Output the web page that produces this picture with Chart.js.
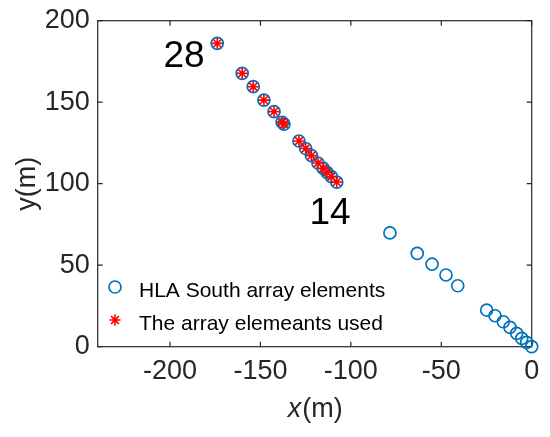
<!DOCTYPE html>
<html>
<head>
<meta charset="utf-8">
<script src="https://cdn.jsdelivr.net/npm/chart.js@4.4.1/dist/chart.umd.min.js"></script>
<style>
  html, body { margin: 0; padding: 0; background: #fff; }
  #wrap { width: 550px; height: 437px; }
</style>
</head>
<body>
<div id="wrap"><canvas id="chart"></canvas></div>
<script>
// HLA South element positions (m), elements 1..28
const elemX = [0, -2.8, -5.5, -8.3, -12, -15.7, -20.3, -24.9, -40.9, -47.4, -55.1, -63.3, -78.4,
               -107.8, -110.8, -113.2, -115.4, -118.2, -121.8, -125, -128.7, -137, -138, -142.5, -148.1, -154, -160.1, -173.9];
const elemY = [0, 2.7, 5.1, 8.2, 11.9, 15.3, 19, 22.5, 37.4, 44, 50.6, 57.3, 69.8,
               101, 104.3, 107, 109.5, 112.7, 117.2, 121.6, 126.2, 136.6, 137.7, 144.2, 151.3, 159.5, 167.7, 186.1];
// elements used: 14..28
const usedFrom = 14, usedTo = 28;
const xTicks = [-200, -150, -100, -50, 0];
const yTicks = [0, 50, 100, 150, 200];
const labels = ['HLA South array elements', 'The array elemeants used'];

const allPts = elemX.map((x, i) => ({x: x, y: elemY[i]}));
const usedPts = allPts.slice(usedFrom - 1, usedTo);

const INK = '#262626';
const FONT = "'Liberation Sans', Arial, sans-serif";

const boxPlugin = {
  id: 'matlabBox',
  beforeDatasetsDraw(chart) {
    const ctx = chart.ctx, a = chart.chartArea;
    const xs = chart.scales.x, ys = chart.scales.y;
    ctx.save();
    ctx.strokeStyle = INK;
    ctx.lineWidth = 1.2;
    ctx.strokeRect(a.left, a.top, a.right - a.left, a.bottom - a.top);
    const tl = 5;
    ctx.beginPath();
    xTicks.forEach(v => {
      const px = xs.getPixelForValue(v);
      ctx.moveTo(px, a.bottom); ctx.lineTo(px, a.bottom - tl);
      ctx.moveTo(px, a.top); ctx.lineTo(px, a.top + tl);
    });
    yTicks.forEach(v => {
      const py = ys.getPixelForValue(v);
      ctx.moveTo(a.left, py); ctx.lineTo(a.left + tl, py);
      ctx.moveTo(a.right, py); ctx.lineTo(a.right - tl, py);
    });
    ctx.stroke();
    ctx.restore();
  },
  afterDraw(chart) {
    const ctx = chart.ctx, a = chart.chartArea;
    ctx.save();
    // axis titles
    ctx.fillStyle = INK;
    ctx.textBaseline = 'alphabetic';
    ctx.font = 'italic 27px ' + FONT;
    const wx = ctx.measureText('x').width;
    ctx.font = '27px ' + FONT;
    const wr = ctx.measureText('(m)').width;
    const cx = (a.left + a.right) / 2;
    let sx = cx - (wx + wr) / 2;
    ctx.textAlign = 'left';
    ctx.font = 'italic 27px ' + FONT;
    ctx.fillText('x', sx, 417);
    ctx.font = '27px ' + FONT;
    ctx.fillText('(m)', sx + wx + 1, 417);

    ctx.save();
    ctx.translate(35, (a.top + a.bottom) / 2);
    ctx.rotate(-Math.PI / 2);
    ctx.textAlign = 'center';
    ctx.fillText('y(m)', 0, 0);
    ctx.restore();

    // element number annotations
    ctx.font = '37px ' + FONT;
    ctx.fillStyle = '#000';
    ctx.textAlign = 'center';
    ctx.fillText('28', 184, 67);
    ctx.fillText('14', 330, 224);

    // legend (no box, inside the axes)
    const ds = chart.data.datasets;
    const rows = [{d: ds[1], y: 287}, {d: ds[0], y: 320}];
    rows.forEach((r, i) => {
      ctx.strokeStyle = r.d.borderColor;
      ctx.fillStyle = r.d.backgroundColor;
      ctx.lineWidth = r.d.borderWidth;
      Chart.helpers.drawPoint(ctx, {pointStyle: r.d.pointStyle, radius: r.d.pointRadius, rotation: 0, borderWidth: r.d.borderWidth}, 115, r.y);
      ctx.fillStyle = '#000';
      ctx.font = '21px ' + FONT;
      ctx.textAlign = 'left';
      ctx.textBaseline = 'alphabetic';
      ctx.fillText(labels[i], 139, r.y + 10);
    });
    ctx.restore();
  }
};

new Chart(document.getElementById('chart'), {
  type: 'scatter',
  data: {
    datasets: [
      {
        label: labels[1],
        data: usedPts,
        pointStyle: 'star',
        pointRadius: 5.5,
        borderColor: '#ff0000',
        backgroundColor: '#ff0000',
        borderWidth: 1.6,
        clip: false,
        order: 0
      },
      {
        label: labels[0],
        data: allPts,
        pointStyle: 'circle',
        pointRadius: 6,
        borderColor: '#0072bd',
        backgroundColor: 'rgba(0,0,0,0)',
        borderWidth: 1.7,
        clip: false,
        order: 1
      }
    ]
  },
  options: {
    responsive: true,
    maintainAspectRatio: false,
    animation: false,
    layout: { padding: { top: 20.7, right: 18.3, left: 0, bottom: 0 } },
    plugins: { legend: { display: false }, tooltip: { enabled: false } },
    scales: {
      x: {
        type: 'linear',
        min: -240,
        max: 0,
        grid: { display: false },
        border: { display: false },
        afterFit: s => { s.height = 90.3; },
        ticks: {
          stepSize: 50,
          includeBounds: false,
          padding: 1,
          color: INK,
          font: { family: FONT, size: 27 }
        }
      },
      y: {
        min: 0,
        max: 200,
        grid: { display: false },
        border: { display: false },
        afterFit: s => { s.width = 97.7; },
        ticks: {
          stepSize: 50,
          padding: 0,
          color: INK,
          font: { family: FONT, size: 27 }
        }
      }
    }
  },
  plugins: [boxPlugin]
});
</script>
</body>
</html>
